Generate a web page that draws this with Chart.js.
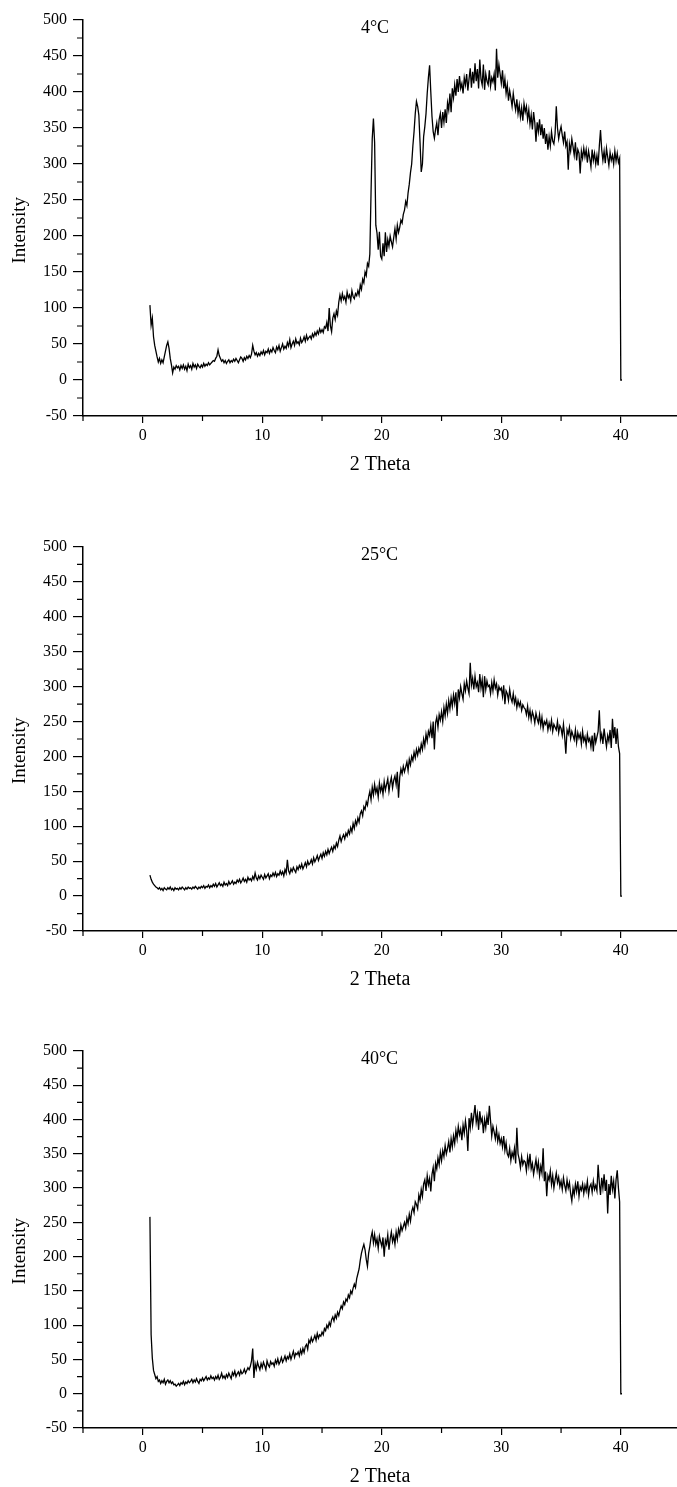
<!DOCTYPE html>
<html>
<head>
<meta charset="utf-8">
<script src="https://cdn.jsdelivr.net/npm/chart.js@4.4.1/dist/chart.umd.min.js"></script>
<style>
  html, body { margin: 0; padding: 0; background: #fff; overflow: hidden; }
  canvas { position: absolute; left: 0; }
</style>
</head>
<body>
<canvas id="c4" width="677" height="480" style="top:0px"></canvas>
<canvas id="c25" width="677" height="505" style="top:490px"></canvas>
<canvas id="c40" width="677" height="497" style="top:995px"></canvas>
<script>
// 2 Theta axis ticks and intensity ticks
const xTicks = [0, 10, 20, 30, 40];
const xMinor = [-5, 5, 15, 25, 35];
const yTicks = [-50, 0, 50, 100, 150, 200, 250, 300, 350, 400, 450, 500];
const yMinor = [-25, 25, 75, 125, 175, 225, 275, 325, 375, 425, 475];
const panelLabels = ['4°C', '25°C', '40°C'];

// intensity rows: first row starts at 0.6, then one row per degree (n.0 .. n.9), last row 40.0, 40.1
const int4 = [
  [104, 76, 86, 60],
  [48, 40, 32, 25, 30, 23, 28, 24, 32, 40],
  [48, 53, 44, 30, 21, 10, 18, 15, 20, 17],
  [19, 14, 20, 16, 21, 15, 19, 13, 22, 17],
  [20, 15, 23, 18, 21, 16, 22, 19, 17, 21],
  [18, 23, 19, 22, 20, 24, 21, 23, 25, 27],
  [26, 30, 33, 42, 34, 30, 26, 28, 24, 27],
  [23, 26, 28, 24, 27, 25, 29, 26, 30, 27],
  [24, 28, 32, 30, 26, 31, 28, 33, 30, 34],
  [31, 36, 48, 40, 35, 38, 33, 37, 34, 39],
  [36, 41, 35, 40, 38, 43, 37, 42, 39, 45],
  [41, 38, 46, 42, 48, 40, 45, 50, 43, 47],
  [44, 52, 47, 56, 45, 50, 54, 48, 57, 51],
  [53, 49, 58, 52, 55, 60, 54, 62, 56, 59],
  [61, 57, 64, 60, 66, 62, 68, 64, 71, 66],
  [70, 66, 74, 72, 80, 68, 100, 75, 67, 86],
  [92, 84, 96, 90, 108, 118, 110, 120, 112, 116],
  [108, 122, 114, 118, 110, 124, 116, 113, 120, 117],
  [124, 118, 132, 126, 140, 135, 150, 145, 162, 158],
  [175, 260, 335, 363, 330, 215, 204, 181, 206, 172],
  [168, 190, 172, 205, 178, 195, 186, 200, 192, 185],
  [198, 210, 196, 215, 205, 212, 222, 218, 230, 236],
  [248, 242, 260, 272, 288, 300, 325, 345, 370, 387],
  [380, 368, 330, 289, 300, 338, 352, 370, 398, 420],
  [437, 400, 366, 345, 336, 348, 357, 340, 362, 370],
  [350, 372, 358, 376, 357, 385, 375, 398, 372, 405],
  [392, 410, 395, 418, 400, 422, 405, 412, 398, 420],
  [410, 425, 402, 418, 433, 406, 428, 412, 440, 415],
  [432, 405, 445, 418, 410, 438, 403, 425, 415, 410],
  [430, 408, 420, 414, 425, 402, 460, 420, 438, 425],
  [412, 430, 405, 418, 398, 410, 388, 402, 392, 380],
  [398, 385, 375, 390, 370, 382, 365, 378, 360, 384],
  [372, 380, 362, 375, 355, 368, 348, 372, 358, 331],
  [358, 345, 362, 340, 355, 335, 350, 328, 342, 320],
  [338, 325, 345, 332, 328, 342, 380, 350, 335, 345],
  [352, 340, 330, 345, 325, 331, 292, 328, 318, 335],
  [324, 312, 330, 305, 320, 315, 287, 318, 308, 322],
  [310, 320, 302, 318, 308, 296, 320, 305, 315, 300],
  [312, 298, 325, 347, 320, 305, 318, 301, 322, 310],
  [298, 316, 305, 312, 300, 318, 304, 315, 302, 308],
  [0, 0]
];

const int25 = [
  [30, 24, 20, 17],
  [15, 13, 12, 10, 12, 9, 11, 8, 12, 10],
  [9, 12, 10, 13, 9, 11, 8, 12, 10, 11],
  [9, 12, 10, 13, 11, 9, 12, 10, 13, 11],
  [12, 10, 13, 11, 14, 12, 10, 13, 11, 14],
  [12, 15, 11, 14, 13, 16, 12, 15, 13, 17],
  [14, 18, 13, 16, 19, 15, 17, 14, 20, 16],
  [18, 15, 21, 17, 19, 22, 17, 20, 18, 23],
  [20, 24, 19, 22, 26, 21, 24, 20, 27, 23],
  [25, 22, 28, 24, 33, 26, 23, 29, 25, 30],
  [27, 24, 31, 26, 29, 32, 25, 30, 28, 33],
  [29, 34, 28, 32, 30, 36, 31, 35, 29, 38],
  [33, 52, 36, 32, 39, 35, 41, 37, 34, 42],
  [38, 44, 40, 46, 39, 43, 48, 42, 50, 45],
  [47, 52, 46, 55, 49, 53, 58, 51, 56, 60],
  [54, 62, 57, 64, 59, 67, 61, 66, 70, 64],
  [72, 68, 76, 71, 80, 86, 78, 84, 88, 82],
  [90, 86, 94, 89, 98, 92, 104, 97, 108, 102],
  [112, 106, 118, 122, 115, 128, 124, 135, 130, 142],
  [150, 138, 156, 145, 160, 148, 155, 142, 162, 150],
  [158, 146, 164, 152, 160, 168, 150, 162, 170, 155],
  [166, 172, 160, 178, 141, 170, 182, 175, 186, 178],
  [185, 192, 180, 196, 188, 200, 194, 206, 198, 210],
  [202, 212, 206, 218, 210, 225, 215, 232, 222, 236],
  [230, 244, 226, 250, 210, 248, 256, 242, 260, 252],
  [264, 250, 270, 258, 275, 262, 280, 268, 284, 272],
  [288, 276, 292, 258, 296, 284, 300, 290, 282, 304],
  [294, 308, 298, 290, 334, 302, 312, 296, 315, 300],
  [306, 292, 318, 298, 310, 285, 315, 296, 308, 300],
  [302, 290, 306, 294, 310, 298, 304, 288, 300, 295],
  [298, 286, 302, 275, 294, 290, 280, 296, 284, 278],
  [290, 276, 284, 270, 280, 272, 278, 266, 274, 270],
  [268, 260, 272, 256, 266, 252, 264, 258, 248, 262],
  [254, 248, 260, 244, 256, 240, 250, 246, 252, 238],
  [248, 240, 252, 236, 246, 242, 238, 250, 234, 244],
  [240, 230, 246, 228, 204, 238, 232, 242, 226, 236],
  [230, 224, 238, 220, 234, 226, 232, 218, 236, 222],
  [228, 216, 232, 222, 226, 214, 230, 207, 234, 220],
  [228, 236, 266, 224, 232, 218, 240, 226, 214, 230],
  [222, 238, 212, 254, 226, 242, 218, 240, 214, 204],
  [0, 0]
];

const int40 = [
  [258, 86, 52, 34],
  [28, 22, 25, 18, 20, 15, 19, 16, 21, 14],
  [18, 20, 16, 19, 15, 17, 13, 14, 11, 13],
  [15, 12, 16, 14, 18, 13, 17, 15, 19, 16],
  [18, 21, 16, 20, 17, 22, 18, 15, 21, 19],
  [23, 19, 22, 25, 20, 23, 21, 26, 22, 24],
  [20, 25, 22, 27, 21, 24, 30, 23, 26, 22],
  [28, 24, 30, 26, 22, 31, 27, 33, 25, 29],
  [32, 27, 34, 29, 31, 36, 30, 34, 38, 35],
  [40, 48, 66, 23, 44, 36, 46, 40, 35, 44],
  [38, 46, 41, 35, 48, 42, 39, 47, 43, 45],
  [40, 49, 44, 51, 43, 47, 53, 46, 50, 55],
  [48, 54, 51, 58, 50, 56, 62, 53, 59, 57],
  [61, 55, 64, 58, 66, 60, 69, 72, 65, 78],
  [74, 82, 76, 80, 85, 78, 88, 81, 86, 84],
  [90, 86, 95, 92, 100, 96, 104, 99, 108, 112],
  [106, 115, 110, 119, 114, 122, 128, 124, 134, 130],
  [138, 135, 144, 140, 150, 146, 154, 160, 155, 168],
  [175, 182, 195, 205, 212, 218, 210, 196, 186, 205],
  [215, 228, 236, 220, 232, 218, 226, 212, 230, 222],
  [215, 228, 200, 224, 218, 232, 210, 226, 236, 222],
  [230, 218, 236, 225, 240, 232, 246, 238, 244, 250],
  [242, 256, 248, 262, 252, 266, 272, 264, 280, 276],
  [270, 290, 282, 298, 288, 306, 312, 296, 318, 305],
  [314, 295, 320, 330, 310, 336, 328, 344, 334, 352],
  [340, 355, 346, 362, 350, 358, 368, 352, 372, 360],
  [376, 365, 384, 372, 390, 378, 386, 370, 392, 380],
  [398, 384, 354, 402, 388, 410, 392, 406, 421, 396],
  [408, 385, 412, 396, 402, 380, 400, 388, 405, 392],
  [420, 398, 376, 390, 382, 372, 386, 368, 378, 365],
  [372, 360, 376, 355, 366, 350, 346, 358, 340, 352],
  [345, 358, 336, 388, 350, 342, 330, 346, 334, 340],
  [338, 325, 345, 332, 350, 328, 336, 320, 331, 342],
  [326, 338, 318, 332, 322, 358, 310, 324, 288, 318],
  [312, 325, 305, 318, 300, 312, 322, 308, 316, 302],
  [310, 298, 315, 304, 296, 312, 300, 308, 292, 281],
  [300, 290, 306, 295, 310, 288, 302, 297, 306, 292],
  [304, 296, 310, 290, 302, 306, 294, 310, 298, 304],
  [296, 334, 308, 290, 315, 300, 320, 296, 312, 263],
  [306, 290, 318, 298, 310, 285, 312, 326, 300, 280],
  [0, 0]
];

// rows -> {x: 2theta, y: intensity}
function toPoints(rows) {
  const pts = [];
  rows.forEach((row, k) => {
    const base = k === 0 ? 0.6 : k;
    row.forEach((v, j) => pts.push({ x: +(base + j * 0.1).toFixed(1), y: v }));
  });
  return pts;
}

const serif = '"Liberation Serif", "Times New Roman", serif';

// minor ticks, panel label and rotated y title
const extras = {
  id: 'extras',
  afterDraw(chart, args, opts) {
    const { ctx, chartArea, scales: { x, y } } = chart;
    ctx.save();
    ctx.strokeStyle = '#000';
    ctx.lineWidth = 1.2;
    ctx.beginPath();
    yMinor.forEach(v => {
      const py = y.getPixelForValue(v);
      ctx.moveTo(chartArea.left - 6, py);
      ctx.lineTo(chartArea.left, py);
    });
    xMinor.forEach(v => {
      const px = x.getPixelForValue(v);
      ctx.moveTo(px, chartArea.bottom);
      ctx.lineTo(px, chartArea.bottom + 5);
    });
    ctx.stroke();

    ctx.fillStyle = '#000';
    ctx.font = '18px ' + serif;
    ctx.textAlign = 'left';
    ctx.textBaseline = 'middle';
    ctx.fillText(opts.label, x.getPixelForValue(18.25), chartArea.top + 8);

    ctx.translate(20, y.getPixelForValue(208));
    ctx.rotate(-Math.PI / 2);
    ctx.textAlign = 'center';
    ctx.font = '19px ' + serif;
    ctx.fillText('Intensity', 0, 0);
    ctx.restore();
  }
};

function makeChart(id, rows, label, padTop) {
  new Chart(document.getElementById(id), {
    type: 'line',
    data: {
      datasets: [{
        data: toPoints(rows),
        borderColor: '#000',
        borderWidth: 1.3,
        pointRadius: 0,
        tension: 0,
        fill: false
      }]
    },
    options: {
      responsive: false,
      animation: false,
      layout: { padding: { top: padTop, right: 0, bottom: 0, left: 0 } },
      plugins: {
        legend: { display: false },
        tooltip: { enabled: false },
        extras: { label: label }
      },
      scales: {
        x: {
          type: 'linear',
          min: -5,
          max: 44.7,
          afterBuildTicks: s => { s.ticks = xTicks.map(v => ({ value: v })); },
          afterFit: s => { s.height = 64; },
          grid: { drawOnChartArea: false, drawTicks: true, tickLength: 7, color: '#000', lineWidth: 1.2 },
          border: { display: true, color: '#000', width: 1.5 },
          ticks: { color: '#000', font: { family: serif, size: 16 }, padding: 3, maxRotation: 0 },
          title: {
            display: true, text: '2 Theta', color: '#000',
            font: { family: serif, size: 20, lineHeight: 1 },
            padding: { top: 0, bottom: 5 }
          }
        },
        y: {
          min: -50,
          max: 500,
          afterBuildTicks: s => { s.ticks = yTicks.map(v => ({ value: v })); },
          afterFit: s => { s.width = 83; },
          grid: { drawOnChartArea: false, drawTicks: true, tickLength: 10, color: '#000', lineWidth: 1.2 },
          border: { display: true, color: '#000', width: 1.5 },
          ticks: { color: '#000', font: { family: serif, size: 16 }, padding: 6 }
        }
      }
    },
    plugins: [extras]
  });
}

makeChart('c4', int4, panelLabels[0], 20);
makeChart('c25', int25, panelLabels[1], 57);
makeChart('c40', int40, panelLabels[2], 56);
</script>
</body>
</html>
